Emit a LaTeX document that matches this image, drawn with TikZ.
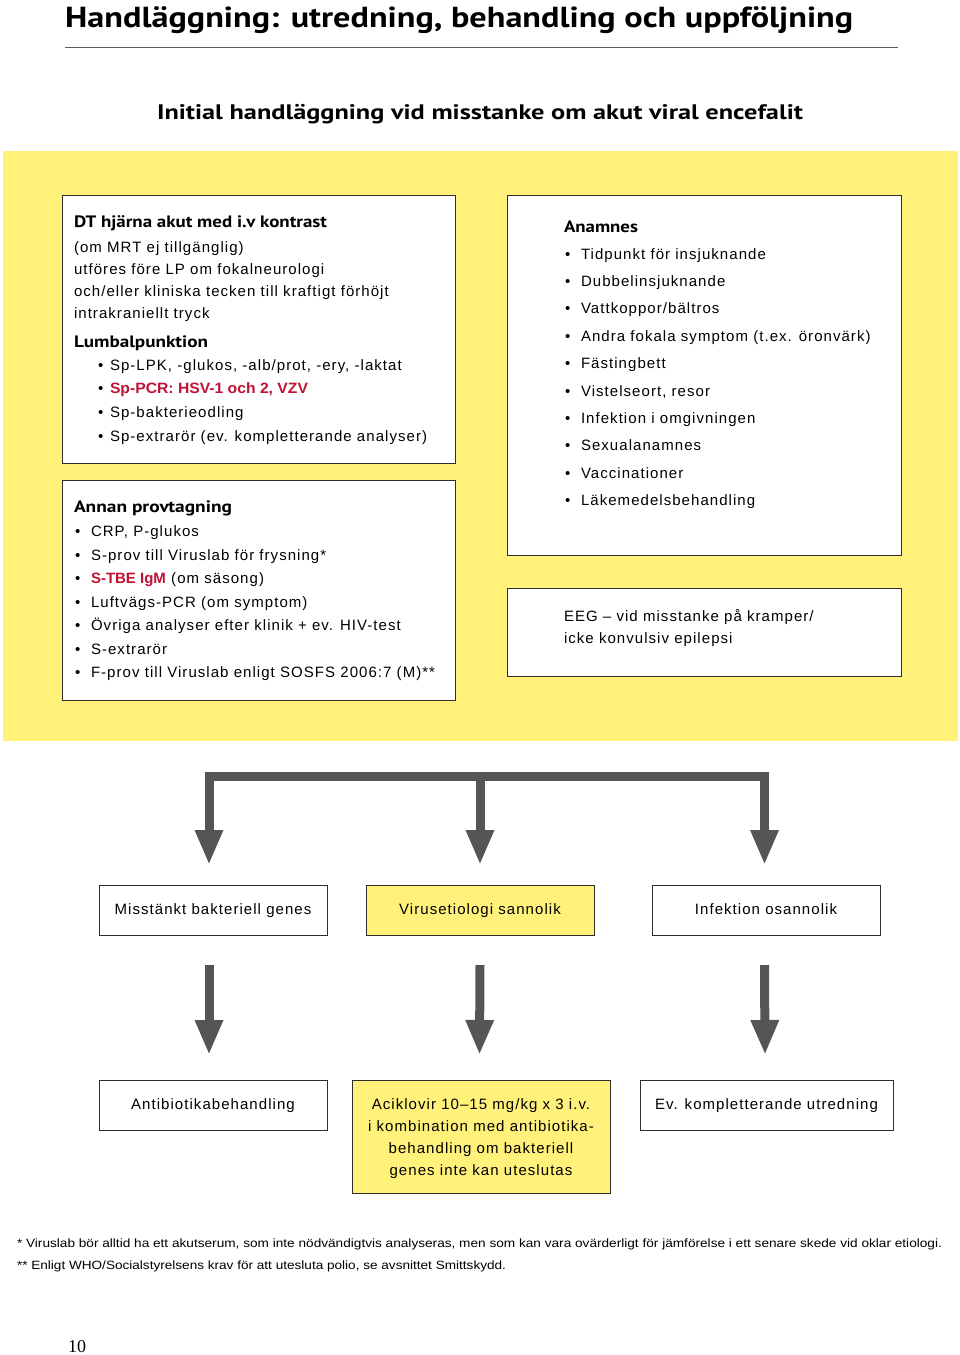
\documentclass[tikz,border=0pt]{standalone}
\usepackage{fontspec}
\usepackage{graphicx}
\usetikzlibrary{arrows.meta,calc}
\setmainfont{Liberation Sans}[LetterSpace=7]
\newfontfamily\plainsans{Liberation Sans}
\newfontfamily\headfont{PT Sans}
\newfontfamily\numfont{Liberation Serif}
\definecolor{panelyellow}{RGB}{255,241,122}
\definecolor{arrowgray}{RGB}{85,85,85}
\definecolor{boxline}{RGB}{45,45,45}
\definecolor{redtext}{RGB}{192,18,52}
\newsavebox\fitbox
\newcommand\fitto[2]{\sbox\fitbox{#2}\pgfmathsetmacro\fitratio{#1/\wd\fitbox}\scalebox{\fitratio}[1]{\usebox\fitbox}}
\newcommand\redb[1]{{\plainsans\bfseries\color{redtext}#1}}
\tikzset{
  box/.style={draw=boxline, line width=1pt, fill=white, inner sep=0pt, outer sep=0pt, anchor=north west},
  ybox/.style={box, fill=panelyellow},
  txt/.style={anchor=base west, inner sep=0pt, outer sep=0pt, font=\fontsize{15}{18}\selectfont},
  ctxt/.style={txt, anchor=base},
  head/.style={anchor=base west, inner sep=0pt, outer sep=0pt, font=\headfont\bfseries\fontsize{16.5}{18}\selectfont},
  bul/.style={txt},
  bigarrow/.style={draw=arrowgray, line width=9pt, line join=miter, -{Triangle[width=26pt,length=35pt]}},
  foot/.style={anchor=base west, inner sep=0pt, outer sep=0pt, font=\plainsans\fontsize{12}{14}\selectfont},
}
\begin{document}
\begin{tikzpicture}[x=1pt,y=-1pt]
\path[use as bounding box] (0,0) rectangle (960,1355);
% title
\node[anchor=base west, inner sep=0pt, font=\headfont\bfseries\fontsize{29}{32}\selectfont] (title) at (65,27) {\fitto{788}{Handläggning: utredning, behandling och uppföljning}};
\draw[draw=black!65, line width=1.2pt] (65,47.5) -- (898,47.5);
\node[anchor=base, inner sep=0pt, font=\headfont\bfseries\fontsize{21}{24}\selectfont] (subtitle) at (480,119) {\fitto{646}{Initial handläggning vid misstanke om akut viral encefalit}};
% yellow panel
\node[fill=panelyellow, inner sep=0pt, outer sep=0pt, anchor=north west, minimum width=955pt, minimum height=590pt] (panel) at (3,151) {};
% box 1
\node[box, minimum width=393pt, minimum height=268pt] (dt) at (62,195) {};
\node[head] (dth) at (74,227) {\fitto{253}{DT hjärna akut med i.v kontrast}};
\node[txt] (dt1) at (74,252) {(om MRT ej tillgänglig)};
\node[txt] (dt2) at (74,274.5) {utföres före LP om fokalneurologi};
\node[txt] (dt3) at (74,296.5) {och/eller kliniska tecken till kraftigt förhöjt};
\node[txt] (dt4) at (74,318) {intrakraniellt tryck};
\node[head] (lph) at (74,347) {\fitto{134}{Lumbalpunktion}};
\foreach \yy/\tt [count=\i] in {370/{Sp-LPK, -glukos, -alb/prot, -ery, -laktat},393.5/{\redb{\fitto{198}{Sp-PCR: HSV-1 och 2, VZV}}},417/{Sp-bakterieodling},441/{Sp-extrarör (ev. kompletterande analyser)}}{
  \node[bul] (lpb\i) at (98,\yy) {•};
  \node[txt] (lpt\i) at (110,\yy) {\tt};
}
% box 2
\node[box, minimum width=393pt, minimum height=220pt] (ap) at (62,480) {};
\node[head] (aph) at (74,512) {\fitto{158}{Annan provtagning}};
\foreach \yy/\tt [count=\i] in {536.5/{CRP, P-glukos},560/{S-prov till Viruslab för frysning*},583.5/{\redb{S-TBE IgM} (om säsong)},607/{Luftvägs-PCR (om symptom)},630.5/{Övriga analyser efter klinik + ev. HIV-test},654/{S-extrarör},677.5/{F-prov till Viruslab enligt SOSFS 2006:7 (M)**}}{
  \node[bul] (apb\i) at (75,\yy) {•};
  \node[txt] (apt\i) at (91,\yy) {\tt};
}
% box 3
\node[box, minimum width=394pt, minimum height=360pt] (an) at (507,195) {};
\node[head] (anh) at (564,232) {\fitto{74}{Anamnes}};
\foreach \tt [count=\i] in {Tidpunkt för insjuknande,Dubbelinsjuknande,Vattkoppor/bältros,Andra fokala symptom (t.ex. öronvärk),Fästingbett,{Vistelseort, resor},Infektion i omgivningen,Sexualanamnes,Vaccinationer,Läkemedelsbehandling}{
  \pgfmathsetmacro\yy{259+27.4*(\i-1)}
  \node[bul] (anb\i) at (565,\yy) {•};
  \node[txt] (ant\i) at (581,\yy) {\tt};
}
% box 4
\node[box, minimum width=394pt, minimum height=88pt] (eeg) at (507,588) {};
\node[txt] (eeg1) at (564,621) {EEG – vid misstanke på kramper/};
\node[txt] (eeg2) at (564,643) {icke konvulsiv epilepsi};
% row 1
\node[box, minimum width=228pt, minimum height=50pt] (mb) at (99,885) {};
\node[ybox, minimum width=228pt, minimum height=50pt] (vs) at (366,885) {};
\node[box, minimum width=228pt, minimum height=50pt] (io) at (652,885) {};
\node[ctxt] (mbt) at (mb.center |- 0,914) {Misstänkt bakteriell genes};
\node[ctxt] (vst) at (vs.center |- 0,914) {Virusetiologi sannolik};
\node[ctxt] (iot) at (io.center |- 0,914) {Infektion osannolik};
% row 2
\node[box, minimum width=228pt, minimum height=50pt] (ab) at (99,1080) {};
\node[ybox, minimum width=258pt, minimum height=113pt] (ac) at (352,1080) {};
\node[box, minimum width=253pt, minimum height=50pt] (ek) at (640,1080) {};
\node[ctxt] (abt) at (ab.center |- 0,1109.5) {Antibiotikabehandling};
\node[ctxt] (ekt) at (ek.center |- 0,1109.5) {Ev. kompletterande utredning};
\node[ctxt] (act1) at (ac.center |- 0,1109) {Aciklovir 10–15 mg/kg x 3 i.v.};
\node[ctxt] (act2) at (ac.center |- 0,1131) {i kombination med antibiotika-};
\node[ctxt] (act3) at (ac.center |- 0,1153) {behandling om bakteriell};
\node[ctxt] (act4) at (ac.center |- 0,1175) {genes inte kan uteslutas};
% arrows top
\coordinate (split) at (480,776);
\draw[bigarrow] (split) -| ([xshift=-4pt,yshift=20pt]mb.north);
\draw[bigarrow] (split) -| ([xshift=-1.5pt,yshift=20pt]io.north);
\draw[bigarrow] (split) -- ([yshift=20pt]vs.north);
% arrows middle
\draw[bigarrow] ([xshift=-4pt,yshift=-30pt]mb.south) -- ([xshift=-4pt,yshift=25pt]ab.north);
\draw[bigarrow] ([yshift=-30pt]vs.south) -- ([xshift=-1.5pt,yshift=25pt]ac.north);
\draw[bigarrow] ([xshift=-1.5pt,yshift=-30pt]io.south) -- ([xshift=-1.5pt,yshift=25pt]ek.north);
% footnotes
\node[foot] (fn1) at (17,1247) {\fitto{925}{* Viruslab bör alltid ha ett akutserum, som inte nödvändigtvis analyseras, men som kan vara ovärderligt för jämförelse i ett senare skede vid oklar etiologi.}};
\node[foot] (fn2) at (17,1269) {\fitto{489}{** Enligt WHO/Socialstyrelsens krav för att utesluta polio, se avsnittet Smittskydd.}};
\node[anchor=base west, inner sep=0pt, font=\numfont\fontsize{18}{20}\selectfont] (pg) at (68,1352) {10};
\end{tikzpicture}
\end{document}
